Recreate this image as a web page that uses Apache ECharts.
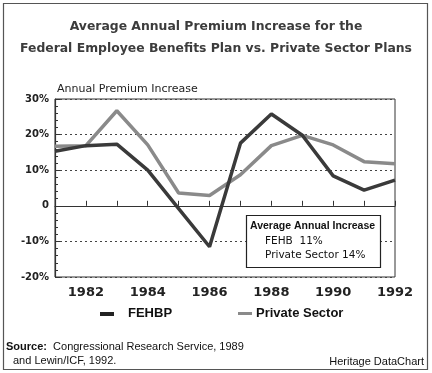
<!DOCTYPE html>
<html><head><meta charset="utf-8">
<script src="https://cdn.jsdelivr.net/npm/echarts@6/dist/echarts.min.js"></script>
<style>html,body{margin:0;padding:0;background:#fff}#c{width:432px;height:373px}</style>
</head><body><div id="c"></div>
<script>
const years = ['1981','1982','1983','1984','1985','1986','1987','1988','1989','1990','1991','1992'];
const fehbp = [15.3, 16.9, 17.3, 10.0, -0.8, -11.5, 17.6, 25.8, 19.8, 8.4, 4.4, 7.2];
const privateSector = [16.7, 16.9, 26.7, 17.1, 3.6, 2.9, 8.7, 16.9, 19.8, 17.1, 12.4, 11.8];
const yTicks = [-20, -10, 0, 10, 20, 30];

const chart = echarts.init(document.getElementById('c'));
chart.setOption({
  animation: false,
  backgroundColor: '#fff',
  title: {
    text: 'Average Annual Premium Increase for the\nFederal Employee Benefits Plan vs. Private Sector Plans',
    left: 'center', top: 11,
    textStyle: {fontFamily: 'DejaVu Sans, sans-serif', fontSize: 12.4, fontWeight: 'bold', color: '#3c3c3c', lineHeight: 22}
  },
  grid: {left: 55, right: 37, top: 99, bottom: 96, show: true, borderColor: '#333', borderWidth: 1},
  legend: {show: false},
  xAxis: {
    type: 'category', data: years, boundaryGap: false,
    axisLine: {show: true, lineStyle: {color: '#333', width: 1.2}},
    axisTick: {show: true, inside: true, length: 5, interval: 0, lineStyle: {color: '#333'}},
    axisLabel: {interval: function(i){return i % 2 === 1;}, margin: 9, fontFamily: 'DejaVu Sans, sans-serif', fontWeight: 'bold', fontSize: 13, color: '#222'},
    splitLine: {show: false}
  },
  yAxis: {
    type: 'value', min: -20, max: 30, interval: 10,
    axisLine: {show: true, lineStyle: {color: '#333', width: 1.2}},
    axisTick: {show: true, inside: true, length: 5, lineStyle: {color: '#333'}},
    minorTick: {show: true, splitNumber: 5, length: 3, lineStyle: {color: '#333'}},
    axisLabel: {margin: 6, fontFamily: 'DejaVu Sans, sans-serif', fontWeight: 'bold', fontSize: 10, color: '#222',
      formatter: function(v){ return yTicks.indexOf(v) >= 0 ? (v === 0 ? '0' : v + '%') : ''; }},
    splitLine: {show: true, lineStyle: {color: '#444', type: [2, 3], width: 1}},
    name: 'Annual Premium Increase', nameLocation: 'end', nameGap: 4,
    nameTextStyle: {align: 'left', padding: [0,0,0,2], fontFamily: 'DejaVu Sans, sans-serif', fontSize: 11, color: '#222'}
  },
  series: [
    {name: 'Private Sector', type: 'line', data: privateSector, symbol: 'none',
     lineStyle: {color: '#8a8a8a', width: 3.5}, z: 3},
    {name: 'FEHBP', type: 'line', data: fehbp, symbol: 'none',
     lineStyle: {color: '#3a3a3a', width: 3.5}, z: 4,
     markLine: {silent: true, symbol: 'none', label: {show: false},
       lineStyle: {color: '#333', type: 'solid', width: 1.2}, data: [{yAxis: 0}]}}
  ],
  graphic: [
    {type: 'rect', shape: {x: 3.5, y: 3.5, width: 424, height: 366}, style: {fill: 'none', stroke: '#555', lineWidth: 1.2}, z: -1},
    {type: 'rect', shape: {x: 246.5, y: 215.5, width: 134, height: 52}, style: {fill: '#fff', stroke: '#222', lineWidth: 1.2}, z: 10},
    {type: 'text', x: 250, y: 221, style: {text: 'Average Annual Increase', font: 'bold 10.5px Liberation Sans, Arial, sans-serif', fill: '#111'}, z: 11},
    {type: 'text', x: 265, y: 236, style: {text: 'FEHB  11%', font: '10.5px DejaVu Sans, sans-serif', fill: '#111'}, z: 11},
    {type: 'text', x: 265, y: 250, style: {text: 'Private Sector 14%', font: '10.5px DejaVu Sans, sans-serif', fill: '#111'}, z: 11},
    {type: 'rect', shape: {x: 100, y: 312, width: 14, height: 4}, style: {fill: '#222'}},
    {type: 'text', x: 128, y: 307, style: {text: 'FEHBP', font: 'bold 13px Liberation Sans, Arial, sans-serif', fill: '#111'}},
    {type: 'rect', shape: {x: 238, y: 312, width: 14, height: 3}, style: {fill: '#8a8a8a'}},
    {type: 'text', x: 256, y: 307, style: {text: 'Private Sector', font: 'bold 13px Liberation Sans, Arial, sans-serif', fill: '#111'}},
    {type: 'text', x: 6, y: 341, style: {rich: {b: {font: 'bold 11px Liberation Sans, Arial, sans-serif', fill: '#111'}, n: {font: '11px Liberation Sans, Arial, sans-serif', fill: '#111'}}, text: '{b|Source:}{n|  Congressional Research Service, 1989}'}},
    {type: 'text', x: 13, y: 355, style: {text: 'and Lewin/ICF, 1992.', font: '11px Liberation Sans, Arial, sans-serif', fill: '#111'}},
    {type: 'text', x: 424, y: 356, style: {text: 'Heritage DataChart', font: '11px Liberation Sans, Arial, sans-serif', fill: '#111', align: 'right'}}
  ]
});
</script></body></html>
